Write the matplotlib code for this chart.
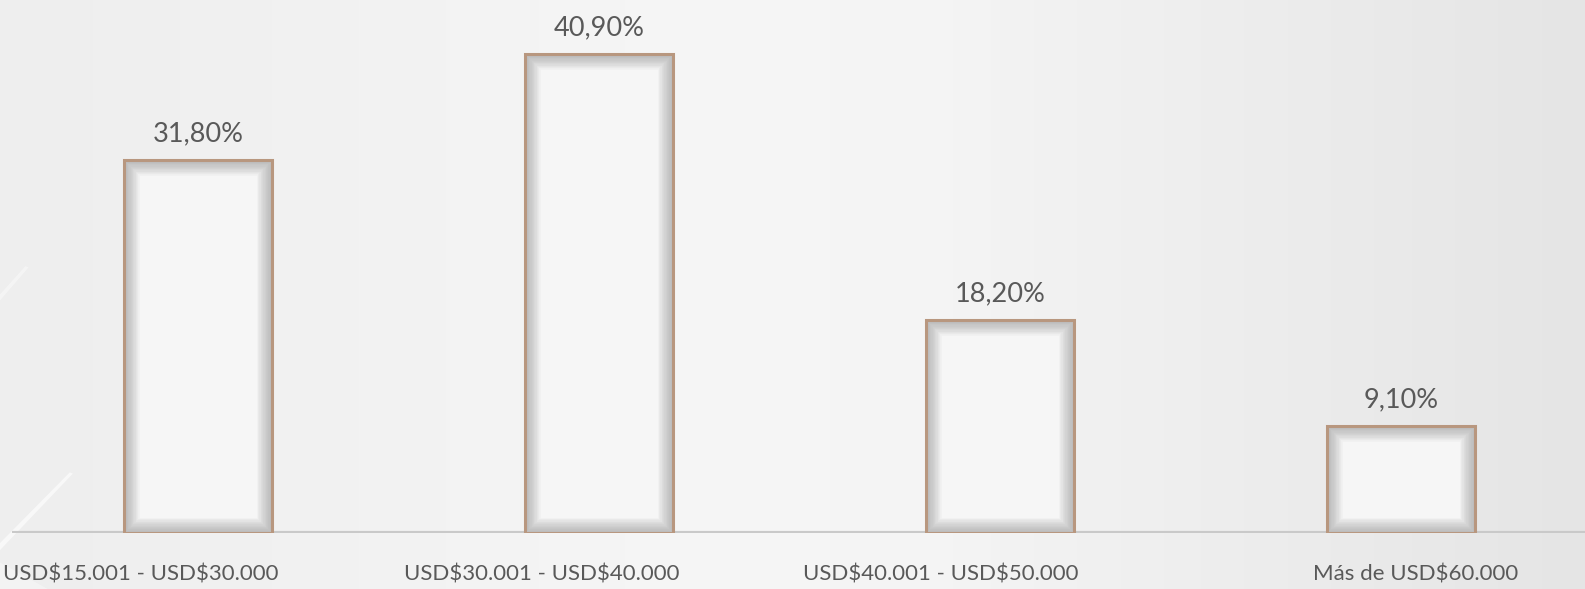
import numpy as np
import matplotlib
matplotlib.use("Agg")
import matplotlib.pyplot as plt
from matplotlib.patches import Rectangle, Polygon
from matplotlib.colors import LinearSegmentedColormap
from matplotlib.transforms import offset_copy

categorias = ["USD\\$15.001 - USD\\$30.000", "USD\\$30.001 - USD\\$40.000",
              "USD\\$40.001 - USD\\$50.000", "Más de USD\\$60.000"]
porcentajes = [31.8, 40.9, 18.2, 9.1]
etiquetas = ["31,80%", "40,90%", "18,20%", "9,10%"]

plt.rcParams["font.family"] = ["Lato", "DejaVu Sans"]
gris_texto = "#595959"

fig = plt.figure(figsize=(15.85, 5.89), dpi=100)

# fondo con degradado horizontal
fondo = fig.add_axes([0, 0, 1, 1], zorder=0)
cmap_fondo = LinearSegmentedColormap.from_list(
    "fondo", [(0, "#eeeeee"), (0.45, "#f6f6f6"), (0.6, "#f4f4f4"), (1, "#e5e5e5")])
fondo.imshow(np.linspace(0, 1, 512)[None, :], aspect="auto", cmap=cmap_fondo,
             extent=[0, 1, 0, 1])
# vetas diagonales claras abajo a la izquierda
fondo.add_patch(Polygon([[0, 0.078], [0.044, 0.198], [0.046, 0.196], [0, 0.066]],
                        closed=True, color="white", alpha=0.6, lw=0))
fondo.add_patch(Polygon([[0, 0.0], [0.03, 0.0], [0, 0.045]],
                        closed=True, color="white", alpha=0.35, lw=0))
fondo.add_patch(Polygon([[0, 0.50], [0.016, 0.548], [0.018, 0.546], [0, 0.49]],
                        closed=True, color="white", alpha=0.4, lw=0))
fondo.set_xlim(0, 1)
fondo.set_ylim(0, 1)
fondo.axis("off")

ax = fig.add_axes([12 / 1585, 56 / 589, 1573 / 1585, 533 / 589], zorder=1)
ax.patch.set_alpha(0)

x = np.arange(len(categorias))
ancho = 0.37
barras = ax.bar(x, porcentajes, width=ancho, color="#f6f6f6",
                edgecolor="none", zorder=2)

# sombra interior difusa, recortada a cada barra
for b in barras:
    for lw in np.linspace(22, 2, 12):
        sombra = Rectangle(b.get_xy(), b.get_width(), b.get_height(),
                           fill=False, edgecolor="#8c8c8c", linewidth=lw,
                           alpha=0.06, zorder=3)
        ax.add_patch(sombra)
        sombra.set_clip_path(b)
    borde = Rectangle(b.get_xy(), b.get_width(), b.get_height(),
                      fill=False, edgecolor="#b8977f", linewidth=2.2, zorder=4)
    ax.add_patch(borde)

for xi, v, t in zip(x, porcentajes, etiquetas):
    ax.annotate(t, (xi, v), xytext=(0, 10), textcoords="offset points",
                ha="center", va="bottom", fontsize=19.5, color=gris_texto)

ax.set_xlim(-0.464, 3.459)
ax.set_ylim(0, 45.5)
ax.axhline(0, color="#c9c9c9", linewidth=3, zorder=1)

ax.set_yticks([])
ax.set_xticks(x)
ax.set_xticklabels(categorias, fontsize=16, color=gris_texto)
ax.tick_params(axis="x", length=0, pad=23)
desplaz = [-57, -57, -59, 15]
for lab, dx in zip(ax.get_xticklabels(), desplaz):
    lab.set_transform(offset_copy(lab.get_transform(), fig=fig, x=dx, y=0, units="dots"))
for s in ax.spines.values():
    s.set_visible(False)

fig.savefig("out.png", dpi=100)
